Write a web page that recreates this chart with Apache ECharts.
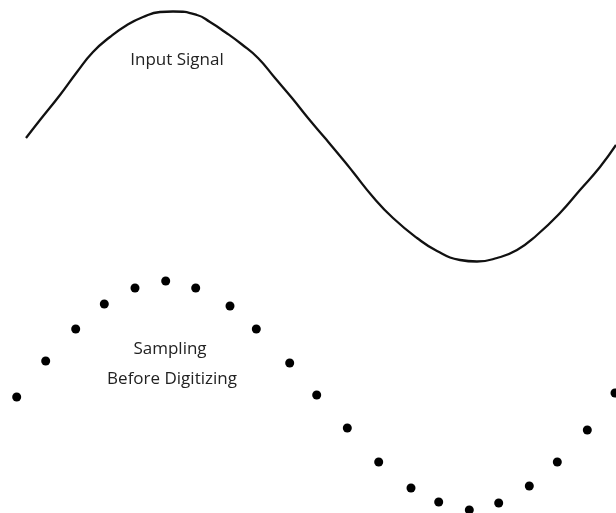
<!DOCTYPE html>
<html>
<head>
<meta charset="utf-8">
<title>Input Signal / Sampling</title>
<script src="https://cdn.jsdelivr.net/npm/echarts@6/dist/echarts.min.js"></script>
<style>
  html, body { margin: 0; padding: 0; background: #fff; }
  #chart { width: 616px; height: 513px; }
</style>
</head>
<body>
<div id="chart"></div>
<script>
// continuous input signal: time position and level (relative to midline)
var signalTime = [26, 40, 60, 77, 93, 110, 127, 143, 160, 173, 197, 210, 225, 242, 258, 275,
  292, 308, 325, 345, 353, 373, 393, 417, 437, 460, 477, 497, 517, 537, 560, 580, 600, 616];
var signalLevel = [-2, 16, 41, 64, 84, 99, 111, 119, 124, 124.5, 121, 114, 104, 91.5, 78, 58,
  38, 18, -2, -26, -36, -61, -82, -102, -115, -124, -125.5, -122, -114, -99, -77, -54, -31, -9];

// samples taken before digitizing
var sampleTime = [16.7, 45.7, 75.7, 104.3, 135, 165.7, 195.7, 230, 256.3, 289.7, 316.7,
  347.3, 378.7, 411, 438.7, 469.3, 498.7, 529.3, 557.3, 587.3, 615];
var sampleLevel = [-2, 34, 66, 91, 107, 114, 107, 89, 66, 32, 0,
  -33, -67, -93, -107, -115, -108, -91, -67, -35, 2];

var chart = echarts.init(document.getElementById('chart'));

function zip(xs, ys) {
  return xs.map(function (x, i) { return [x, ys[i]]; });
}

var labelStyle = { fontSize: 17, fontWeight: 'normal', color: '#222', fontFamily: 'Open Sans' };

chart.setOption({
  animation: false,
  backgroundColor: '#fff',
  title: [
    { text: 'Input Signal', left: 177, top: 52, padding: 0, textAlign: 'center', textStyle: labelStyle },
    { text: 'Sampling', left: 170, top: 341, padding: 0, textAlign: 'center', textStyle: labelStyle },
    { text: 'Before Digitizing', left: 172, top: 371, padding: 0, textAlign: 'center', textStyle: labelStyle }
  ],
  grid: [
    { left: 0, right: 0, top: 0, height: 270 },
    { left: 0, right: 0, top: 270, height: 243 }
  ],
  xAxis: [
    { type: 'value', min: 0, max: 616, gridIndex: 0, show: false },
    { type: 'value', min: 0, max: 616, gridIndex: 1, show: false }
  ],
  yAxis: [
    { type: 'value', min: -134, max: 136, gridIndex: 0, show: false },
    { type: 'value', min: -118, max: 125, gridIndex: 1, show: false }
  ],
  series: [
    {
      name: 'Input Signal',
      type: 'line',
      xAxisIndex: 0,
      yAxisIndex: 0,
      data: zip(signalTime, signalLevel),
      smooth: 0.5,
      showSymbol: false,
      clip: false,
      lineStyle: { color: '#111', width: 2.3 }
    },
    {
      name: 'Sampling',
      type: 'scatter',
      xAxisIndex: 1,
      yAxisIndex: 1,
      data: zip(sampleTime, sampleLevel),
      symbolSize: 9,
      clip: false,
      itemStyle: { color: '#000', opacity: 1 }
    }
  ]
});
</script>
</body>
</html>
